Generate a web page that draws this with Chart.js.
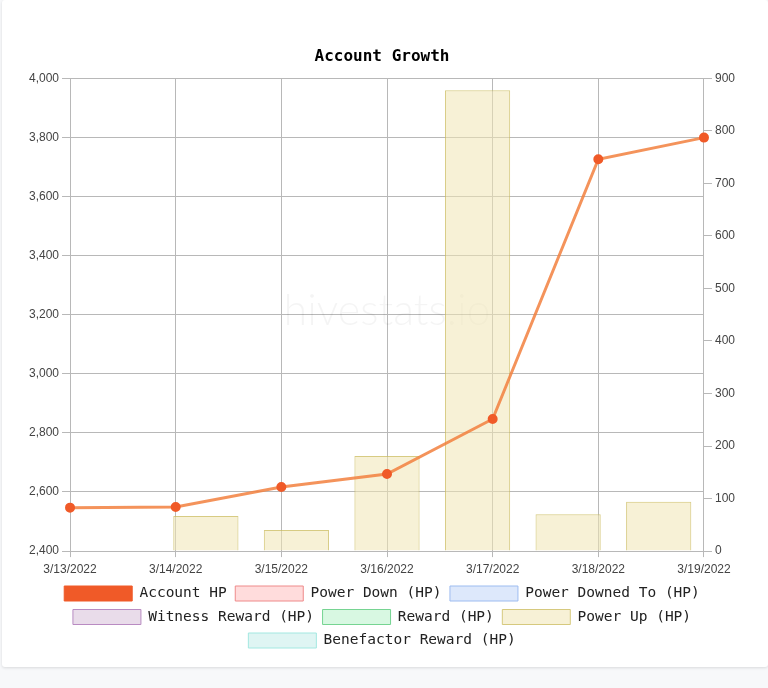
<!DOCTYPE html>
<html>
<head>
<meta charset="utf-8">
<script src="https://cdn.jsdelivr.net/npm/chart.js@4.4.1/dist/chart.umd.min.js"></script>
<style>
  html, body { margin: 0; padding: 0; background: #f7f8fa; }
  .card {
    position: absolute; left: 2px; top: 0; width: 766px; height: 667px;
    background: #fff; border-radius: 3px;
    box-shadow: 0 1px 3px rgba(0,0,0,0.12);
  }
  #chart { display: block; }
</style>
</head>
<body>
<div class="card"><canvas id="chart" width="766" height="658"></canvas></div>
<script>
const dates = ['3/13/2022', '3/14/2022', '3/15/2022', '3/16/2022', '3/17/2022', '3/18/2022', '3/19/2022'];
const accountHp = [2547, 2549, 2617, 2661, 2847, 3726, 3799];
const powerDown = [0, 0, 0, 0, 0, 0, 0];
const poweredDownTo = [0, 0, 0, 0, 0, 0, 0];
const witnessReward = [0, 0, 0, 0, 0, 0, 0];
const reward = [0, 0, 0, 0, 0, 0, 0];
const powerUp = [0, 67, 40, 181, 877, 70, 94];
const benefactorReward = [0, 0, 0, 0, 0, 0, 0];

const mono = 'DejaVu Sans Mono, monospace';
const sans = 'Liberation Sans, Arial, sans-serif';

// faint site name behind the plot
const watermark = {
    id: 'watermark',
    beforeDatasetsDraw(chart) {
        const a = chart.chartArea;
        const c = chart.ctx;
        c.save();
        c.font = '300 43px Lato, sans-serif';
        c.fillStyle = 'rgba(0,0,0,0.045)';
        c.textAlign = 'center';
        c.textBaseline = 'middle';
        c.fillText('hivestats.io', (a.left + a.right) / 2, (a.top + a.bottom) / 2 - 4);
        c.restore();
    }
};

const bar = (label, data, bg, border) => ({
    type: 'bar',
    label: label,
    data: data,
    backgroundColor: bg,
    borderColor: border,
    borderWidth: 1,
    grouped: false,
    xAxisID: 'x2',
    yAxisID: 'yRight',
    order: 2
});

var ctx = document.querySelector('#chart').getContext('2d');
var chart = new Chart(ctx, {
    type: 'bar',
    data: {
        labels: dates,
        datasets: [
            {
                type: 'line',
                label: 'Account HP',
                data: accountHp,
                borderColor: 'rgba(242,128,62,0.85)',
                backgroundColor: '#f05a28',
                pointBackgroundColor: '#f05a28',
                pointBorderColor: '#f05a28',
                pointRadius: 3.5,
                borderWidth: 3,
                tension: 0,
                fill: false,
                xAxisID: 'x',
                yAxisID: 'yLeft',
                order: 1
            },
            bar('Power Down (HP)', powerDown, '#ffdcdc', '#ee8a8a'),
            bar('Power Downed To (HP)', poweredDownTo, '#dde8fb', '#9dbcf0'),
            bar('Witness Reward (HP)', witnessReward, '#e9dcea', '#b98bc2'),
            bar('Reward (HP)', reward, '#d8f8e2', '#76d492'),
            bar('Power Up (HP)', powerUp, 'rgba(240,230,180,0.55)', 'rgba(205,190,100,0.8)'),
            bar('Benefactor Reward (HP)', benefactorReward, '#dff5f3', '#a3e8e1')
        ]
    },
    options: {
        responsive: false,
        animation: false,
        layout: { padding: { top: 47, left: 24, right: 30, bottom: 0 } },
        plugins: {
            title: {
                display: true,
                text: 'Account Growth',
                color: '#000',
                font: { family: mono, size: 16, weight: 'bold' },
                padding: { top: 0, bottom: 12 }
            },
            legend: {
                position: 'bottom',
                labels: {
                    boxWidth: 68,
                    boxHeight: 15,
                    padding: 8.5,
                    color: '#222',
                    font: { family: mono, size: 14.5 },
                    generateLabels(chart) {
                        const items = Chart.defaults.plugins.legend.labels.generateLabels(chart);
                        items[0].strokeStyle = '#f05a28';
                        items[0].lineWidth = 1;
                        return items;
                    }
                }
            },
            tooltip: { enabled: false }
        },
        scales: {
            x: {
                offset: false,
                grid: { offset: false, color: '#b8b8b8', tickLength: 6 },
                border: { color: '#b8b8b8' },
                ticks: { color: '#444', font: { family: sans, size: 12 }, maxRotation: 0, padding: 5 },
                afterFit(scale) { scale.height -= 4; }
            },
            x2: {
                display: false,
                offset: true,
                stacked: true
            },
            yLeft: {
                position: 'left',
                min: 2400,
                max: 4000,
                grid: { color: '#b8b8b8', tickLength: 8 },
                border: { color: '#b8b8b8' },
                ticks: { stepSize: 200, color: '#444', font: { family: sans, size: 12 }, padding: 3 }
            },
            yRight: {
                position: 'right',
                min: 0,
                max: 900,
                stacked: true,
                grid: { drawOnChartArea: false, color: '#b8b8b8', tickLength: 8 },
                border: { color: '#b8b8b8' },
                ticks: { stepSize: 100, color: '#444', font: { family: sans, size: 12 }, padding: 3 }
            }
        }
    },
    plugins: [watermark]
});
</script>
</body>
</html>
